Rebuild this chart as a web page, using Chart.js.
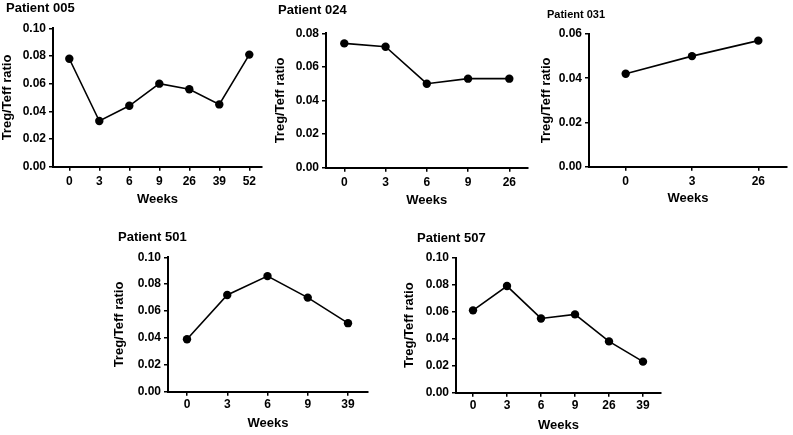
<!DOCTYPE html>
<html>
<head>
<meta charset="utf-8">
<script src="https://cdn.jsdelivr.net/npm/chart.js@4.4.1/dist/chart.umd.min.js"></script>
<style>
  html, body { margin: 0; padding: 0; background: #fff; }
  body { width: 793px; height: 435px; position: relative; overflow: hidden; }
  canvas { position: absolute; }
</style>
</head>
<body>
<canvas id="c005"></canvas>
<canvas id="c024"></canvas>
<canvas id="c031"></canvas>
<canvas id="c501"></canvas>
<canvas id="c507"></canvas>
<script>
// ---- data ----
const weeks005 = ['0', '3', '6', '9', '26', '39', '52'];
const ratio005 = [0.078, 0.033, 0.044, 0.060, 0.056, 0.045, 0.081];

const weeks024 = ['0', '3', '6', '9', '26'];
const ratio024 = [0.074, 0.072, 0.050, 0.053, 0.053];

const weeks031 = ['0', '3', '26'];
const ratio031 = [0.042, 0.050, 0.057];

const weeks501 = ['0', '3', '6', '9', '39'];
const ratio501 = [0.039, 0.072, 0.086, 0.070, 0.051];

const weeks507 = ['0', '3', '6', '9', '26', '39'];
const ratio507 = [0.061, 0.079, 0.055, 0.058, 0.038, 0.023];

const yTicks005 = [0, 0.10];
const yTicks024 = [0, 0.08];
const yTicks031 = [0, 0.06];
const yTicks501 = [0, 0.10];
const yTicks507 = [0, 0.10];

const yStep = 0.02;
const xAxisTitle = 'Weeks';
const yAxisTitle = 'Treg/Teff ratio';

// ---- layout (pixel geometry of each panel) ----
const FAMILY = "'Liberation Sans', Arial, Helvetica, sans-serif";
const TICK_SIZE = 12;
const AXIS_TITLE_SIZE = 13;
const TICK_LEN = 4;

const panels = [
  { id: 'c005', title: 'Patient 005', titleSize: 13, weeks: weeks005, values: ratio005, yRange: yTicks005,
    box: { left: 53, top: 28.3, right: 262, bottom: 166.7 }, tick0: 69.3, tickN: 249.3,
    titleX: 7, titleY: 8, yTitleX: 7.5, xLabelY: 182, xTitleY: 199.5 },
  { id: 'c024', title: 'Patient 024', titleSize: 13, weeks: weeks024, values: ratio024, yRange: yTicks024,
    box: { left: 326, top: 33.3, right: 527.5, bottom: 167.7 }, tick0: 344.3, tickN: 509.3,
    titleX: 279, titleY: 10.5, yTitleX: 280.5, xLabelY: 182.5, xTitleY: 200 },
  { id: 'c031', title: 'Patient 031', titleSize: 11, weeks: weeks031, values: ratio031, yRange: yTicks031,
    box: { left: 589, top: 34, right: 787, bottom: 166.7 }, tick0: 625.7, tickN: 758.3,
    titleX: 548, titleY: 14.7, yTitleX: 546, xLabelY: 181.3, xTitleY: 198.3 },
  { id: 'c501', title: 'Patient 501', titleSize: 13, weeks: weeks501, values: ratio501, yRange: yTicks501,
    box: { left: 168, top: 257.3, right: 368, bottom: 391.7 }, tick0: 187, tickN: 348,
    titleX: 119, titleY: 237.5, yTitleX: 119.5, xLabelY: 404.5, xTitleY: 423 },
  { id: 'c507', title: 'Patient 507', titleSize: 13, weeks: weeks507, values: ratio507, yRange: yTicks507,
    box: { left: 456, top: 257.7, right: 661, bottom: 392.7 }, tick0: 473, tickN: 643,
    titleX: 418, titleY: 238.5, yTitleX: 409.5, xLabelY: 406, xTitleY: 425 }
];

function buildPanel(p) {
  const canvas = document.getElementById(p.id);
  const titleLH = p.titleSize * 1.2;
  const axisLH = AXIS_TITLE_SIZE * 1.2;

  // canvas must reach left of both the panel title and the rotated y title
  const L = Math.max(0, Math.floor(Math.min(p.titleX - 1, p.yTitleX - axisLH / 2 - 2)));
  const padLeft = (p.titleX - 1) - L;
  const originX = L + padLeft;

  const tTop = p.titleY - titleLH / 2;
  const T = Math.floor(tTop);
  const titlePadTop = tTop - T;
  const titlePadBottom = p.box.top - T - titlePadTop - titleLH;

  const yWidth = p.box.left - originX;
  const yTitlePad = p.yTitleX - originX - axisLH / 2;

  const xHeight = p.xTitleY + axisLH / 2 - p.box.bottom;
  const tickPad = p.xLabelY - p.box.bottom - TICK_LEN - TICK_SIZE * 0.6;

  const bottomEdge = p.box.bottom + xHeight;
  const Hc = Math.ceil(bottomEdge - T);
  const padBottom = T + Hc - bottomEdge;
  const Wc = Math.ceil(p.box.right + 8 - L);
  const padRight = L + Wc - p.box.right;

  canvas.width = Wc; canvas.height = Hc;
  canvas.style.width = Wc + 'px'; canvas.style.height = Hc + 'px';
  canvas.style.left = L + 'px'; canvas.style.top = T + 'px';

  const n = p.weeks.length;
  const sp = (p.tickN - p.tick0) / (n - 1);
  const xMin = -(p.tick0 - p.box.left) / sp;
  const xMax = (n - 1) + (p.box.right - p.tickN) / sp;

  const font = (size) => ({ family: FAMILY, size: size, weight: 'bold' });

  new Chart(canvas, {
    type: 'line',
    data: {
      datasets: [{
        data: p.values.map((v, i) => ({ x: i, y: v })),
        borderColor: '#000',
        borderWidth: 1.6,
        pointRadius: 4.2,
        pointBackgroundColor: '#000',
        pointBorderColor: '#000',
        pointBorderWidth: 0,
        tension: 0,
        clip: false
      }]
    },
    options: {
      responsive: false,
      animation: false,
      devicePixelRatio: 1,
      layout: { padding: { left: padLeft, top: 0, right: padRight, bottom: padBottom } },
      plugins: {
        legend: { display: false },
        tooltip: { enabled: false },
        title: {
          display: true,
          text: p.title,
          align: 'start',
          color: '#000',
          font: font(p.titleSize),
          padding: { top: titlePadTop, bottom: titlePadBottom }
        }
      },
      scales: {
        x: {
          type: 'linear',
          min: xMin,
          max: xMax,
          afterBuildTicks: (scale) => { scale.ticks = p.weeks.map((w, i) => ({ value: i })); },
          afterFit: (scale) => { scale.height = xHeight; },
          ticks: {
            autoSkip: false,
            maxRotation: 0,
            color: '#000',
            font: font(TICK_SIZE),
            padding: tickPad,
            callback: (v) => p.weeks[v]
          },
          grid: { display: true, drawOnChartArea: false, drawTicks: true, tickLength: TICK_LEN, color: '#000', lineWidth: 1.5 },
          border: { display: true, color: '#000', width: 2 },
          title: { display: true, text: xAxisTitle, color: '#000', font: font(AXIS_TITLE_SIZE), padding: { top: 0, bottom: 0 } }
        },
        y: {
          min: p.yRange[0],
          max: p.yRange[1],
          afterFit: (scale) => { scale.width = yWidth; },
          ticks: {
            stepSize: yStep,
            color: '#000',
            font: font(TICK_SIZE),
            padding: 3,
            callback: (v) => Number(v).toFixed(2)
          },
          grid: { display: true, drawOnChartArea: false, drawTicks: true, tickLength: TICK_LEN, color: '#000', lineWidth: 1.5 },
          border: { display: true, color: '#000', width: 2 },
          title: { display: true, text: yAxisTitle, color: '#000', font: font(AXIS_TITLE_SIZE), padding: { top: yTitlePad, bottom: 0 } }
        }
      }
    }
  });
}

panels.forEach(buildPanel);
</script>
</body>
</html>
